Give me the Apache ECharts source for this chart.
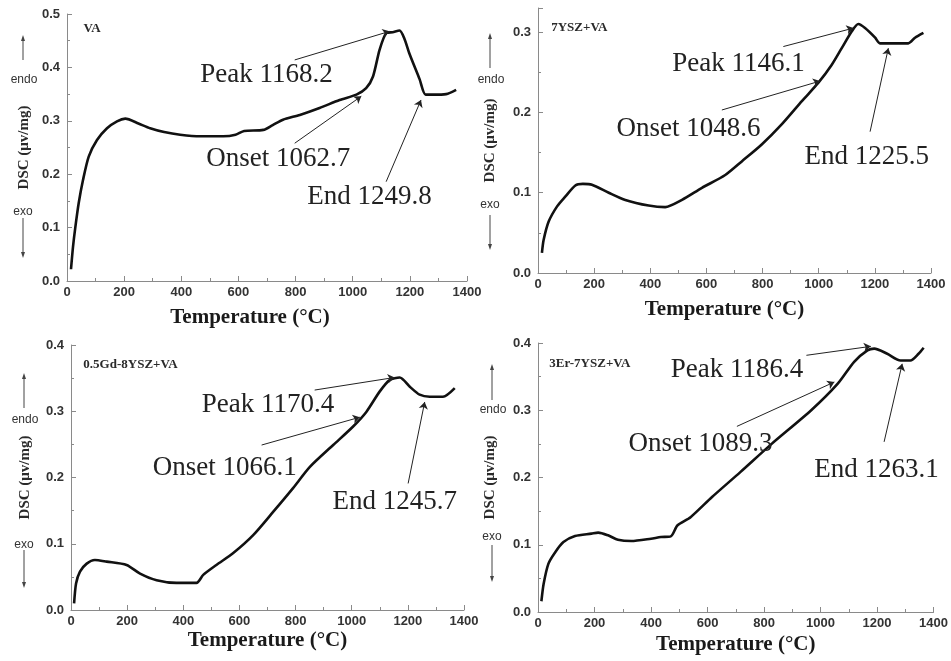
<!DOCTYPE html>
<html>
<head>
<meta charset="utf-8">
<title>DSC</title>
<script src="https://cdn.jsdelivr.net/npm/echarts@6/dist/echarts.min.js"></script>
<style>
html,body{margin:0;padding:0;background:#fff;}
#chart{width:951px;height:661px;}
</style>
</head>
<body>
<div id="chart"></div>
<script>
// ---- VA
var temp_va = [14, 21, 29, 41, 56, 76, 105, 140, 175, 204, 250, 291, 340, 396, 466, 547, 590, 620, 687, 720, 756, 815, 884, 954, 1013, 1047, 1071, 1094, 1117, 1140, 1164, 1180, 1199, 1234, 1255, 1280, 1327, 1362];
var dsc_va  = [0.022, 0.064, 0.100, 0.146, 0.189, 0.233, 0.264, 0.286, 0.299, 0.304, 0.295, 0.286, 0.279, 0.274, 0.271, 0.271, 0.274, 0.281, 0.283, 0.292, 0.302, 0.311, 0.324, 0.339, 0.349, 0.361, 0.383, 0.433, 0.464, 0.466, 0.469, 0.455, 0.425, 0.378, 0.349, 0.349, 0.350, 0.358];
var notes_va = ['Peak 1168.2', 'Onset 1062.7', 'End 1249.8'];
var notePos_va = [[698, 0.386], [739, 0.228], [1059, 0.158]];
var arrows_va = [[[797, 0.414], [1129, 0.4675]], [[797, 0.258], [1030, 0.346]], [[1117, 0.186], [1239, 0.339]]];

// ---- 7YSZ+VA
var temp_ysz = [14, 20, 38, 68, 97, 133, 160, 192, 252, 311, 394, 453, 513, 584, 667, 726, 797, 868, 940, 999, 1046, 1082, 1118, 1141, 1165, 1201, 1218, 1260, 1319, 1343, 1373];
var dsc_ysz  = [0.025, 0.041, 0.064, 0.083, 0.095, 0.109, 0.111, 0.110, 0.100, 0.091, 0.084, 0.082, 0.091, 0.106, 0.122, 0.139, 0.160, 0.185, 0.214, 0.237, 0.259, 0.280, 0.301, 0.310, 0.305, 0.293, 0.286, 0.286, 0.286, 0.293, 0.299];
var notes_ysz = ['Peak 1146.1', 'Onset 1048.6', 'End 1225.5'];
var notePos_ysz = [[714, 0.261], [536, 0.180], [1171, 0.145]];
var arrows_ysz = [[[874, 0.282], [1124, 0.305]], [[655, 0.203], [1005, 0.239]], [[1183, 0.176], [1248, 0.280]]];

// ---- 0.5Gd-8YSZ+VA
var temp_gd = [11, 18, 32, 56, 85, 127, 198, 246, 305, 376, 447, 471, 518, 578, 649, 720, 791, 851, 934, 1005, 1052, 1100, 1135, 1171, 1207, 1242, 1278, 1325, 1367];
var dsc_gd  = [0.010, 0.040, 0.058, 0.070, 0.0755, 0.073, 0.068, 0.055, 0.045, 0.041, 0.041, 0.053, 0.068, 0.086, 0.113, 0.148, 0.184, 0.216, 0.249, 0.277, 0.299, 0.330, 0.347, 0.351, 0.337, 0.325, 0.322, 0.322, 0.335];
var notes_gd = ['Peak 1170.4', 'Onset 1066.1', 'End 1245.7'];
var notePos_gd = [[702, 0.309], [548, 0.215], [1153, 0.1625]];
var arrows_gd = [[[868, 0.332], [1153, 0.351]], [[679, 0.249], [1029, 0.291]], [[1201, 0.191], [1260, 0.314]]];

// ---- 3Er-7YSZ+VA
var temp_er = [12, 20, 37, 61, 90, 131, 189, 213, 248, 283, 330, 400, 435, 470, 494, 540, 616, 716, 827, 967, 1061, 1119, 1166, 1190, 1236, 1283, 1318, 1347, 1365];
var dsc_er  = [0.016, 0.042, 0.072, 0.089, 0.104, 0.113, 0.1165, 0.118, 0.114, 0.1075, 0.1055, 0.109, 0.1115, 0.1125, 0.129, 0.141, 0.171, 0.208, 0.250, 0.300, 0.3395, 0.372, 0.389, 0.3916, 0.384, 0.374, 0.374, 0.384, 0.393];
var notes_er = ['Peak 1186.4', 'Onset 1089.3', 'End 1263.1'];
var notePos_er = [[704, 0.360], [575, 0.250], [1198, 0.2117]];
var arrows_er = [[[950, 0.3817], [1178, 0.395]], [[704, 0.276], [1049, 0.342]], [[1225, 0.253], [1289, 0.369]]];

var sampleNames = ['VA', '7YSZ+VA', '0.5Gd-8YSZ+VA', '3Er-7YSZ+VA'];
var samplePos = [[58, 0.4725], [47, 0.305], [44, 0.370], [40, 0.369]];
var yMax = [0.5, 0.33, 0.4, 0.4];
var xTicks = [0, 1400, 200];

var serif = '"Liberation Serif", "Times New Roman", serif';
var sans = '"Liberation Sans", Arial, sans-serif';

var myChart = echarts.init(document.getElementById('chart'));

var grids = [
	{left: 67, top: 14, width: 400, height: 267},
	{left: 538, top: 8, width: 393, height: 265},
	{left: 71, top: 345, width: 393, height: 265},
	{left: 538, top: 343, width: 399, height: 269}
];
var yGap = [35, 40, 38, 40];
var xGap = [26, 26, 20, 22];
var xPad = [[0, 34, 0, 0], [0, 20, 0, 0], [0, 0, 0, 0], [0, 0, 0, 0]];

var temps = [temp_va, temp_ysz, temp_gd, temp_er];
var dscs = [dsc_va, dsc_ysz, dsc_gd, dsc_er];
var notes = [notes_va, notes_ysz, notes_gd, notes_er];
var notePos = [notePos_va, notePos_ysz, notePos_gd, notePos_er];
var arrows = [arrows_va, arrows_ysz, arrows_gd, arrows_er];

var xAxes = [], yAxes = [], series = [];
for (var i = 0; i < 4; i++) {
	xAxes.push({
		gridIndex: i, type: 'value', min: xTicks[0], max: xTicks[1], interval: xTicks[2],
		name: 'Temperature (°C)', nameLocation: 'middle', nameGap: xGap[i],
		nameTextStyle: {fontFamily: serif, fontWeight: 'bold', fontSize: 21, color: '#1a1a1a', padding: xPad[i]},
		axisLine: {lineStyle: {color: '#8a8a8a', width: 1}},
		axisTick: {inside: true, length: 5, lineStyle: {color: '#8a8a8a'}},
		minorTick: {show: true, splitNumber: 2, length: 3, lineStyle: {color: '#8a8a8a'}},
		splitLine: {show: false},
		axisLabel: {
			fontFamily: sans, fontWeight: 'bold', fontSize: 13, color: '#333', margin: 5,
			formatter: function (v) { return String(v); }
		}
	});
	yAxes.push({
		gridIndex: i, type: 'value', min: 0, max: yMax[i], interval: 0.1,
		name: 'DSC (μv/mg)', nameLocation: 'middle', nameGap: yGap[i], nameRotate: 90,
		nameTextStyle: {fontFamily: serif, fontWeight: 'bold', fontSize: 15, color: '#2a2a2a'},
		axisLine: {show: true, lineStyle: {color: '#8a8a8a', width: 1}},
		axisTick: {inside: true, length: 5, lineStyle: {color: '#8a8a8a'}},
		minorTick: {show: true, splitNumber: 2, length: 3, lineStyle: {color: '#8a8a8a'}},
		splitLine: {show: false},
		axisLabel: {
			fontFamily: sans, fontWeight: 'bold', fontSize: 13, color: '#333', margin: 7,
			formatter: function (v) {
				var r = Math.round(v * 10) / 10;
				return Math.abs(r - v) < 1e-6 ? r.toFixed(1) : '';
			}
		}
	});

	var pts = [];
	for (var k = 0; k < temps[i].length; k++) pts.push([temps[i][k], dscs[i][k]]);

	var mp = [];
	for (var n = 0; n < notes[i].length; n++) {
		mp.push({coord: notePos[i][n], value: 0, label: {formatter: notes[i][n]}});
	}
	mp.push({coord: samplePos[i], value: 0, label: {
		formatter: sampleNames[i], fontSize: 13, fontWeight: 'bold', align: 'left', color: '#2a2a2a'
	}});

	var ml = [];
	for (var m = 0; m < arrows[i].length; m++) {
		ml.push([{coord: arrows[i][m][0]}, {coord: arrows[i][m][1]}]);
	}

	series.push({
		type: 'line', xAxisIndex: i, yAxisIndex: i, data: pts,
		showSymbol: false, symbol: 'none', smooth: 0.25, silent: true,
		lineStyle: {color: '#111', width: 2.6},
		markLine: {
			silent: true, symbol: ['none', 'arrow'], symbolSize: 7, animation: false,
			lineStyle: {color: '#222', width: 1, type: 'solid'},
			label: {show: false}, emphasis: {disabled: true},
			data: ml
		},
		markPoint: {
			silent: true, symbol: 'circle', symbolSize: 0, animation: false,
			itemStyle: {color: 'rgba(0,0,0,0)'},
			label: {show: true, position: 'inside', fontFamily: serif, fontSize: 27, color: '#222'},
			data: mp
		}
	});
}

// endo / exo side marks
function arrowLine(x, y1, y2) {
	var dir = y2 < y1 ? -1 : 1;
	return [
		{type: 'line', silent: true, shape: {x1: x, y1: y1, x2: x, y2: y2 - dir * 5}, style: {stroke: '#444', lineWidth: 1}},
		{type: 'polygon', silent: true, shape: {points: [[x - 2, y2 - dir * 6], [x + 2, y2 - dir * 6], [x, y2]]}, style: {fill: '#444'}}
	];
}
function sideText(txt, x, y) {
	return {type: 'text', silent: true, style: {text: txt, x: x, y: y, fill: '#333', font: '12px ' + sans,
		textAlign: 'center', textVerticalAlign: 'middle', align: 'center', verticalAlign: 'middle'}};
}
var side = [
	[23, 60, 35, 80, 212, 218, 258],
	[490, 68, 33, 80, 205, 215, 250],
	[24, 408, 373, 420, 545, 550, 588],
	[492, 400, 364, 410, 537, 545, 582]
];
var graphics = [];
for (var s = 0; s < side.length; s++) {
	var d = side[s];
	graphics = graphics.concat(arrowLine(d[0], d[1], d[2]));
	graphics.push(sideText('endo', d[0] + 1, d[3]));
	graphics.push(sideText('exo', d[0], d[4]));
	graphics = graphics.concat(arrowLine(d[0], d[5], d[6]));
}

var option = {
	animation: false,
	backgroundColor: '#fff',
	grid: grids,
	xAxis: xAxes,
	yAxis: yAxes,
	series: series,
	graphic: graphics
};
myChart.setOption(option);
</script>
</body>
</html>
